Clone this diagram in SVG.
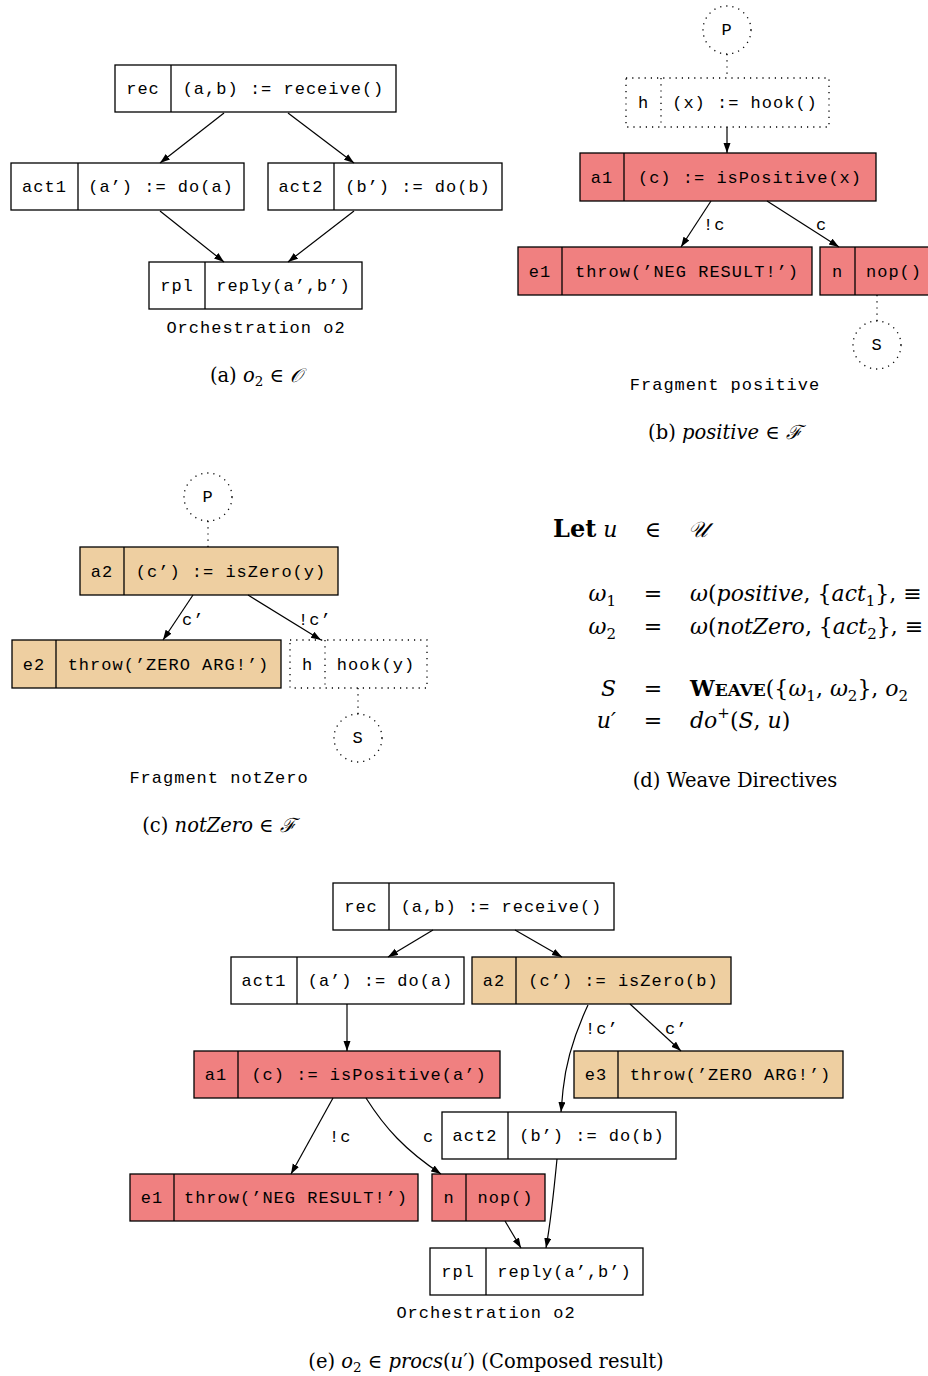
<svg xmlns="http://www.w3.org/2000/svg" width="928" height="1376" viewBox="0 0 928 1376">
<defs>
<marker id="arr" markerUnits="userSpaceOnUse" markerWidth="11" markerHeight="8" refX="10" refY="3.5" orient="auto">
<path d="M0,0 L10,3.5 L0,7 z" fill="#000"/>
</marker>
<style>
.box{fill:#fff;stroke:#000;stroke-width:1.3}
.red{fill:#F08080;stroke:#000;stroke-width:1.3}
.tan{fill:#EECFA1;stroke:#000;stroke-width:1.3}
.dot{fill:none;stroke:#000;stroke-width:1.3;stroke-dasharray:1.2 5}
.div{stroke:#000;stroke-width:1.3}
.m{font-family:"Liberation Mono","Courier New",monospace;font-size:17px;letter-spacing:1px;fill:#000}
.c{text-anchor:middle}
.e{fill:none;stroke:#000;stroke-width:1.2;marker-end:url(#arr)}
.cap{font-family:"DejaVu Serif","Liberation Serif",serif;font-size:19.5px;fill:#000}
.math{font-family:"DejaVu Serif","Liberation Serif","DejaVu Sans",serif;font-size:22px;fill:#000}
.i{font-style:italic}
</style>
</defs>

<!-- (a) -->
<g id="a_rec">
<rect class="box" x="115" y="65" width="281" height="47"/><line class="div" x1="171" y1="65" x2="171" y2="112"/>
<text class="m c" x="143" y="94">rec</text><text class="m c" x="283.5" y="94">(a,b) := receive()</text>
</g>
<g id="a_act1">
<rect class="box" x="11" y="163" width="233" height="47"/><line class="div" x1="78" y1="163" x2="78" y2="210"/>
<text class="m c" x="44.5" y="192">act1</text><text class="m c" x="161" y="192">(a’) := do(a)</text>
</g>
<g id="a_act2">
<rect class="box" x="268" y="163" width="234" height="47"/><line class="div" x1="334" y1="163" x2="334" y2="210"/>
<text class="m c" x="301" y="192">act2</text><text class="m c" x="418" y="192">(b’) := do(b)</text>
</g>
<g id="a_rpl">
<rect class="box" x="149" y="262" width="213" height="47"/><line class="div" x1="205" y1="262" x2="205" y2="309"/>
<text class="m c" x="177" y="291">rpl</text><text class="m c" x="283.5" y="291">reply(a’,b’)</text>
</g>
<g id="a_edges">
<path class="e" d="M224,113 L160,163"/>
<path class="e" d="M288,113 L354,163"/>
<path class="e" d="M160,211 L224,262"/>
<path class="e" d="M354,211 L288,262"/>
</g>
<text class="m c" x="256" y="333">Orchestration o2</text>
<text class="cap c" x="256" y="382">(a) <tspan class="i">o</tspan><tspan font-size="13.5" dy="4">2</tspan><tspan dy="-4"> ∈ </tspan><tspan class="i">𝒪</tspan></text>

<!-- (b) -->
<g id="b_P">
<circle class="dot" cx="727" cy="30" r="24"/><text class="m c" x="727" y="35">P</text>
</g>
<g id="b_h">
<rect class="dot" x="626" y="78" width="203" height="49"/><line class="dot" x1="661" y1="78" x2="661" y2="127"/>
<text class="m c" x="643.5" y="108">h</text><text class="m c" x="745" y="108">(x) := hook()</text>
</g>
<g id="b_a1">
<rect class="red" x="580" y="153" width="296" height="48"/><line class="div" x1="624" y1="153" x2="624" y2="201"/>
<text class="m c" x="602" y="183">a1</text><text class="m c" x="750" y="183">(c) := isPositive(x)</text>
</g>
<g id="b_e1">
<rect class="red" x="518" y="247" width="294" height="48"/><line class="div" x1="562" y1="247" x2="562" y2="295"/>
<text class="m c" x="540" y="277">e1</text><text class="m c" x="687" y="277">throw(’NEG RESULT!’)</text>
</g>
<g id="b_n">
<rect class="red" x="820" y="247" width="130" height="48"/><line class="div" x1="855" y1="247" x2="855" y2="295"/>
<text class="m c" x="837.5" y="277">n</text><text class="m" x="866" y="277">nop()</text>
</g>
<g id="b_S">
<circle class="dot" cx="877" cy="345" r="24"/><text class="m c" x="877" y="350">S</text>
</g>
<g id="b_edges">
<line class="dot" x1="727" y1="54" x2="727" y2="78"/>
<path class="e" d="M727,127 L727,153"/>
<path class="e" d="M711,201 L681,247"/>
<text class="m" x="703" y="230">!c</text>
<path class="e" d="M767,201 L839,247"/>
<text class="m" x="816" y="230">c</text>
<line class="dot" x1="877" y1="295" x2="877" y2="321"/>
</g>
<text class="m c" x="725" y="390">Fragment positive</text>
<text class="cap c" x="725" y="439">(b) <tspan class="i">positive</tspan> ∈ <tspan class="i">ℱ</tspan></text>

<!-- (c) -->
<g id="c_P">
<circle class="dot" cx="208" cy="497" r="24"/><text class="m c" x="208" y="502">P</text>
</g>
<g id="c_a2">
<rect class="tan" x="80" y="547" width="258" height="48"/><line class="div" x1="124" y1="547" x2="124" y2="595"/>
<text class="m c" x="102" y="577">a2</text><text class="m c" x="231" y="577">(c’) := isZero(y)</text>
</g>
<g id="c_e2">
<rect class="tan" x="12" y="640" width="269" height="48"/><line class="div" x1="56" y1="640" x2="56" y2="688"/>
<text class="m c" x="34" y="670">e2</text><text class="m c" x="168.5" y="670">throw(’ZERO ARG!’)</text>
</g>
<g id="c_h">
<rect class="dot" x="290" y="640" width="137" height="48"/><line class="dot" x1="325" y1="640" x2="325" y2="688"/>
<text class="m c" x="307.5" y="670">h</text><text class="m c" x="376" y="670">hook(y)</text>
</g>
<g id="c_S">
<circle class="dot" cx="358" cy="738" r="24"/><text class="m c" x="358" y="743">S</text>
</g>
<g id="c_edges">
<line class="dot" x1="208" y1="521" x2="208" y2="547"/>
<path class="e" d="M193,595 L163,640"/>
<text class="m" x="182" y="625">c’</text>
<path class="e" d="M248,595 L321,640"/>
<text class="m" x="298" y="625">!c’</text>
<line class="dot" x1="358" y1="688" x2="358" y2="714"/>
</g>
<text class="m c" x="219" y="783">Fragment notZero</text>
<text class="cap c" x="219" y="832">(c) <tspan class="i">notZero</tspan> ∈ <tspan class="i">ℱ</tspan></text>

<!-- (d) -->
<g id="d_directives">
<text class="math" x="553" y="537"><tspan font-weight="bold" font-size="24">Let</tspan> <tspan class="i">u</tspan></text>
<text class="math c" x="653" y="537">∈</text>
<text class="math i" x="688" y="537">𝒰</text>

<text class="math" x="616" y="601" text-anchor="end"><tspan class="i">ω</tspan><tspan font-size="15" dy="5">1</tspan></text>
<text class="math c" x="653" y="601">=</text>
<text class="math" x="690" y="601"><tspan class="i">ω</tspan>(<tspan class="i">positive</tspan>, {<tspan class="i">act</tspan><tspan font-size="15" dy="5">1</tspan><tspan dy="-5">}, ≡</tspan></text>

<text class="math" x="616" y="634" text-anchor="end"><tspan class="i">ω</tspan><tspan font-size="15" dy="5">2</tspan></text>
<text class="math c" x="653" y="634">=</text>
<text class="math" x="690" y="634"><tspan class="i">ω</tspan>(<tspan class="i">notZero</tspan>, {<tspan class="i">act</tspan><tspan font-size="15" dy="5">2</tspan><tspan dy="-5">}, ≡</tspan></text>

<text class="math i" x="616" y="696" text-anchor="end">S</text>
<text class="math c" x="653" y="696">=</text>
<text class="math" x="690" y="696"><tspan font-weight="bold">W</tspan><tspan font-weight="bold" font-size="17">EAVE</tspan>({<tspan class="i">ω</tspan><tspan font-size="15" dy="5">1</tspan><tspan dy="-5">, </tspan><tspan class="i">ω</tspan><tspan font-size="15" dy="5">2</tspan><tspan dy="-5">}, </tspan><tspan class="i">o</tspan><tspan font-size="15" dy="5">2</tspan></text>

<text class="math i" x="616" y="728" text-anchor="end">u′</text>
<text class="math c" x="653" y="728">=</text>
<text class="math" x="690" y="728"><tspan class="i">do</tspan><tspan font-size="15" dy="-10">+</tspan><tspan dy="10">(</tspan><tspan class="i">S</tspan>, <tspan class="i">u</tspan>)</text>
</g>
<text class="cap c" x="735" y="787">(d) Weave Directives</text>

<!-- (e) -->
<g id="e_rec">
<rect class="box" x="333" y="883" width="281" height="47"/><line class="div" x1="389" y1="883" x2="389" y2="930"/>
<text class="m c" x="361" y="912">rec</text><text class="m c" x="501.5" y="912">(a,b) := receive()</text>
</g>
<g id="e_act1">
<rect class="box" x="231" y="957" width="233" height="47"/><line class="div" x1="297" y1="957" x2="297" y2="1004"/>
<text class="m c" x="264" y="986">act1</text><text class="m c" x="380.5" y="986">(a’) := do(a)</text>
</g>
<g id="e_a2">
<rect class="tan" x="472" y="957" width="259" height="47"/><line class="div" x1="516" y1="957" x2="516" y2="1004"/>
<text class="m c" x="494" y="986">a2</text><text class="m c" x="623.5" y="986">(c’) := isZero(b)</text>
</g>
<g id="e_a1">
<rect class="red" x="194" y="1051" width="306" height="47"/><line class="div" x1="238" y1="1051" x2="238" y2="1098"/>
<text class="m c" x="216" y="1080">a1</text><text class="m c" x="369" y="1080">(c) := isPositive(a’)</text>
</g>
<g id="e_e3">
<rect class="tan" x="574" y="1051" width="269" height="47"/><line class="div" x1="618" y1="1051" x2="618" y2="1098"/>
<text class="m c" x="596" y="1080">e3</text><text class="m c" x="730.5" y="1080">throw(’ZERO ARG!’)</text>
</g>
<g id="e_act2">
<rect class="box" x="442" y="1112" width="234" height="47"/><line class="div" x1="508" y1="1112" x2="508" y2="1159"/>
<text class="m c" x="475" y="1141">act2</text><text class="m c" x="592" y="1141">(b’) := do(b)</text>
</g>
<g id="e_e1">
<rect class="red" x="130" y="1174" width="288" height="47"/><line class="div" x1="174" y1="1174" x2="174" y2="1221"/>
<text class="m c" x="152" y="1203">e1</text><text class="m c" x="296" y="1203">throw(’NEG RESULT!’)</text>
</g>
<g id="e_n">
<rect class="red" x="432" y="1174" width="113" height="47"/><line class="div" x1="466" y1="1174" x2="466" y2="1221"/>
<text class="m c" x="449" y="1203">n</text><text class="m c" x="505.5" y="1203">nop()</text>
</g>
<g id="e_rpl">
<rect class="box" x="430" y="1248" width="213" height="47"/><line class="div" x1="486" y1="1248" x2="486" y2="1295"/>
<text class="m c" x="458" y="1277">rpl</text><text class="m c" x="564.5" y="1277">reply(a’,b’)</text>
</g>
<g id="e_edges">
<path class="e" d="M433,930 L388,957"/>
<path class="e" d="M515,930 L562,957"/>
<path class="e" d="M347,1004 L347,1051"/>
<path class="e" d="M588,1005 C574,1035 566,1060 563,1090 L561,1112"/>
<text class="m" x="585" y="1034">!c’</text>
<path class="e" d="M630,1004 L681,1051"/>
<text class="m" x="665" y="1034">c’</text>
<path class="e" d="M333,1098 L291,1174"/>
<text class="m" x="329" y="1142">!c</text>
<path class="e" d="M366,1098 C385,1128 405,1150 441,1174"/>
<text class="m" x="423" y="1142">c</text>
<path class="e" d="M557,1159 C554,1190 551,1220 546,1248"/>
<path class="e" d="M505,1221 L521,1248"/>
</g>
<text class="m c" x="486" y="1318">Orchestration o2</text>
<text class="cap c" x="486" y="1368">(e) <tspan class="i">o</tspan><tspan font-size="13.5" dy="4">2</tspan><tspan dy="-4"> ∈ </tspan><tspan class="i">procs</tspan>(<tspan class="i">u</tspan>′) (Composed result)</text>
</svg>
